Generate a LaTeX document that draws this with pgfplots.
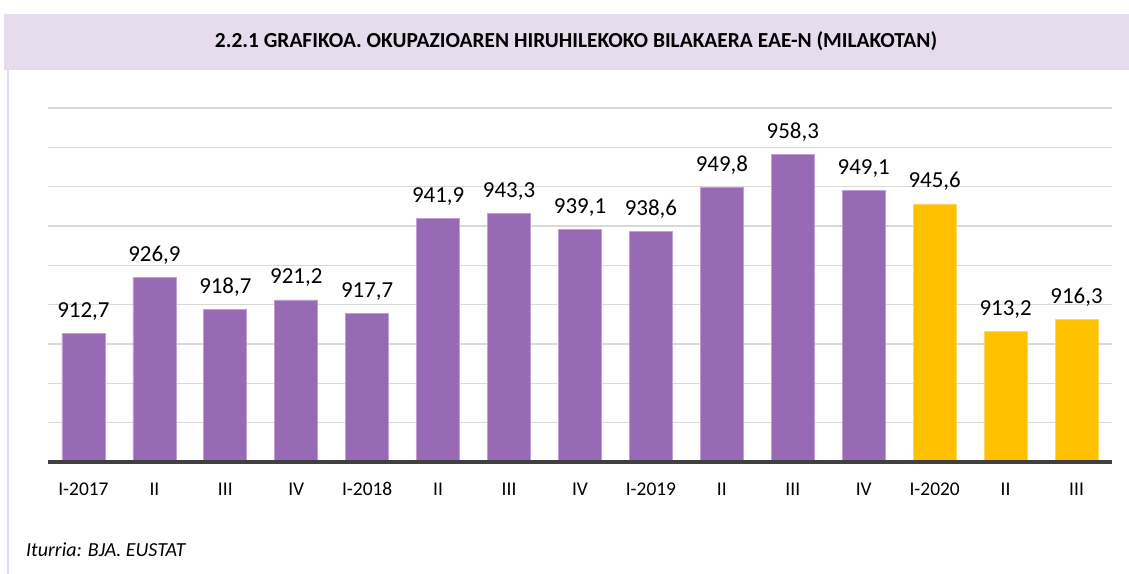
\documentclass[border=0pt]{standalone}
\usepackage{fontspec}
\setmainfont{Carlito}
\usepackage{pgfplots}
\pgfplotsset{compat=1.18}
\definecolor{barpurple}{RGB}{152,106,182}
\definecolor{barpurpleedge}{RGB}{190,160,210}
\definecolor{baryellow}{RGB}{255,192,0}
\definecolor{baryellowedge}{RGB}{255,215,100}
\definecolor{band}{RGB}{230,220,238}
\definecolor{bandline}{RGB}{228,218,242}
\definecolor{gridc}{RGB}{217,217,217}
\definecolor{basec}{RGB}{64,64,64}
\begin{document}
\begin{tikzpicture}[x=1bp,y=1bp]
\path[use as bounding box] (0,0) rectangle (1129,574);
\fill[band] (4,504) rectangle (1129,560);
\draw[bandline, line width=2bp] (8,0) -- (8,504);
\node[font=\bfseries\fontsize{21.5}{25}\selectfont, anchor=base] at (576,526) {2.2.1 GRAFIKOA. OKUPAZIOAREN HIRUHILEKOKO BILAKAERA EAE-N (MILAKOTAN)};
\node[font=\itshape\fontsize{20}{24}\selectfont, anchor=base west, inner sep=0pt] at (26,17) {Iturria: BJA. EUSTAT};
\begin{axis}[
  at={(48bp,112bp)}, anchor=south west,
  scale only axis, width=1064bp, height=354bp,
  xmin=-0.5, xmax=14.5, ymin=880, ymax=970,
  ytick={880,890,...,970}, yticklabels={},
  ymajorgrids, grid style={gridc, line width=1.3bp},
  xtick={0,...,14},
  xticklabels={I-2017,II,III,IV,I-2018,II,III,IV,I-2019,II,III,IV,I-2020,II,III},
  xticklabel style={font=\fontsize{19.5}{22}\selectfont, anchor=base, yshift=-34bp},
  axis line style={draw=none},
  major tick length=0pt,
  clip=false,
  nodes near coords,
  every node near coord/.append style={font=\fontsize{23}{27}\selectfont, anchor=base, inner sep=0pt, yshift=16bp, text=black},
  /pgf/number format/use comma,
  /pgf/number format/fixed,
  /pgf/number format/fixed zerofill,
  /pgf/number format/precision=1,
  /pgf/number format/assume math mode=true,
]
\addplot[ybar, bar width=43bp, bar shift=0pt, fill=barpurple, draw=barpurpleedge, line width=0.8bp]
  coordinates {(0,912.7) (1,926.9) (2,918.7) (3,921.2) (4,917.7) (5,941.9) (6,943.3) (7,939.1) (8,938.6) (9,949.8) (10,958.3) (11,949.1)};
\addplot[ybar, bar width=43bp, bar shift=0pt, fill=baryellow, draw=baryellowedge, line width=0.8bp]
  coordinates {(12,945.6) (13,913.2) (14,916.3)};
\draw[basec, line width=3.5bp] (axis cs:-0.5,880) -- (axis cs:14.5,880);
\end{axis}
\end{tikzpicture}
\end{document}
